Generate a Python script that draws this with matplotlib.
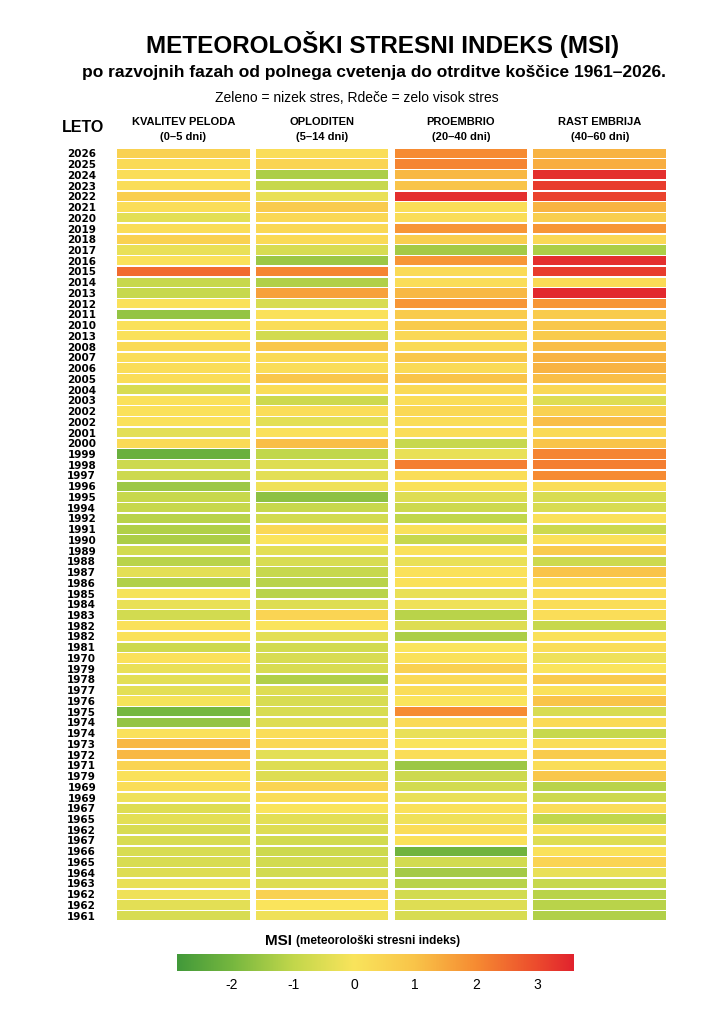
import numpy as np
import matplotlib.pyplot as plt
from matplotlib.colors import LinearSegmentedColormap, Normalize
from matplotlib.transforms import blended_transform_factory

plt.rcParams['font.family'] = ['Liberation Sans', 'DejaVu Sans']

years = ["2026", "2025", "2024", "2023", "2022", "2021", "2020", "2019", "2018", "2017",
         "2016", "2015", "2014", "2013", "2012", "2011", "2010", "2013", "2008", "2007",
         "2006", "2005", "2004", "2003", "2002", "2002", "2001", "2000", "1999", "1998",
         "1997", "1996", "1995", "1994", "1992", "1991", "1990", "1989", "1988", "1987",
         "1986", "1985", "1984", "1983", "1982", "1982", "1981", "1970", "1979", "1978",
         "1977", "1976", "1975", "1974", "1974", "1973", "1972", "1971", "1979", "1969",
         "1969", "1967", "1965", "1962", "1967", "1966", "1965", "1964", "1963", "1962",
         "1962", "1961"]

phases = ["KVALITEV PELODA", "OPLODITEN", "PROEMBRIO", "RAST EMBRIJA"]
phase_days = ["(0–5 dni)", "(5–14 dni)", "(20–40 dni)", "(40–60 dni)"]

kvaliteta = [0.6, 0.3, 0.2, 0.2, 0.7, 0.2, -0.4, 0.2, 0.6, -0.3,
             0.1, 2.5, -0.9, -0.9, 0.1, -1.6, 0.1, 0.1, 0.3, 0.2,
             0.2, 0.2, -0.6, 0.1, 0.1, 0.1, -0.4, 0.3, -2.2, -0.8,
             -0.8, -1.5, -0.9, -0.9, -1.1, -1.2, -1.3, -0.7, -1.1, -0.4,
             -1.2, -0.1, -0.3, -0.7, 0.1, 0.1, -0.8, 0.1, -0.3, -0.4,
             -0.4, -0.1, -2.0, -1.6, 0.1, 1.2, 1.2, 0.5, 0.1, 0.2,
             -0.2, -0.5, -0.4, -0.6, -0.6, -0.6, -0.6, -0.5, -0.3, -0.2,
             -0.4, -0.6]

oploditev = [0.2, 0.5, -1.3, -0.9, -0.3, 0.8, 0.4, 0.4, 0.3, -0.6,
             -1.5, 2.1, -1.2, 1.6, -0.6, 0.1, 0.2, -0.7, 0.9, 0.3,
             0.2, 0.9, 0.2, -0.8, 0.2, -0.4, 0.1, 1.1, -1.0, -0.5,
             -0.4, -0.2, -1.7, -0.9, -0.7, 0.4, 0.0, -0.4, -0.6, -0.9,
             -1.1, -1.1, -0.5, 0.5, 0.0, -0.4, -0.7, -0.6, -0.6, -1.2,
             -0.5, -0.6, -0.6, -0.5, 0.2, 0.4, -0.4, -0.5, -0.5, 0.5,
             0.2, 0.0, -0.4, -0.5, -0.7, -0.8, -0.7, -0.7, -0.5, 0.6,
             0.0, -0.2]

proembrio = [2.0, 2.1, 1.2, 1.0, 3.4, 0.2, 0.2, 1.8, 0.7, -1.4,
             1.8, 0.3, 0.2, 1.2, 1.8, 0.8, 0.8, 0.4, 0.3, 0.9,
             0.3, 1.0, 0.3, 0.2, 0.4, 0.2, 0.2, -0.9, -0.3, 2.2,
             0.2, 0.1, -0.5, -0.8, -1.0, 0.1, -0.9, 0.1, -0.3, 0.1,
             0.1, -0.3, -0.2, -1.1, -0.5, -1.3, 0.0, 0.1, 0.6, 0.3,
             0.2, 0.0, 2.0, 0.3, -0.3, 0.0, 0.2, -1.5, -0.8, -0.7,
             -0.3, 0.1, -0.2, 0.2, 0.1, -2.1, -0.7, -1.4, -1.1, -0.7,
             -0.5, -0.6]

rast = [1.3, 1.4, 3.4, 3.2, 3.1, 1.3, 0.7, 1.8, 0.4, -1.3,
        3.4, 3.2, 0.3, 3.5, 1.8, 0.8, 0.9, 0.8, 1.1, 1.3,
        1.3, 1.1, 0.4, -0.5, 0.6, 1.1, 0.3, 1.0, 2.1, 2.2,
        2.0, 0.2, -0.6, -0.6, 0.1, -0.8, 0.1, 0.8, -0.8, 1.0,
        0.3, 0.2, 0.2, 0.2, -0.9, 0.1, 0.2, -0.2, 0.0, 0.8,
        0.1, 1.0, -0.6, 0.3, -0.9, 0.2, 0.8, 0.2, 0.9, -1.1,
        -0.8, 0.2, -1.0, 0.1, -0.5, 0.1, 0.5, -0.3, -0.9, -1.1,
        -1.1, -1.2]

cbar_ticks = [-2, -1, 0, 1, 2, 3]

vmin, vmax = -2.9, 3.6
stops = [(-2.9, "#42993a"), (-2.0, "#76b73f"), (-1.0, "#c2d74b"), (0.0, "#fae45c"),
         (1.0, "#f9c449"), (2.0, "#f68b32"), (3.0, "#ec4b2d"), (3.6, "#e1232e")]
cmap = LinearSegmentedColormap.from_list(
    "msi", [((v - vmin) / (vmax - vmin), c) for v, c in stops])
norm = Normalize(vmin, vmax)

W, H = 724, 1024
fig = plt.figure(figsize=(W / 100, H / 100), dpi=100)
fig.patch.set_facecolor("white")


def box(x0, y0, x1, y1):
    return [x0 / W, 1 - y1 / H, (x1 - x0) / W, (y1 - y0) / H]


ax = fig.add_axes(box(117, 148, 666, 921))
columns = [kvaliteta, oploditev, proembrio, rast]
rows = np.arange(len(years))
for j, vals in enumerate(columns):
    ax.barh(rows, 0.955, left=j - 0.4775, height=0.86,
            color=cmap(norm(np.array(vals))), linewidth=0)
ax.set_xlim(-0.4775, 3.4775)
ax.set_ylim(len(years) - 0.5, -0.5)
ax.set_yticks(rows)
ax.set_yticklabels(years, fontsize=7.5, fontweight="bold", family=["DejaVu Sans"])
ax.tick_params(axis="y", length=0, pad=15)
ax.set_xticks([])
for s in ax.spines.values():
    s.set_visible(False)

tr = blended_transform_factory(ax.transData, fig.transFigure)
for j, (name, days) in enumerate(zip(phases, phase_days)):
    ax.text(j, 1 - 122 / H, name, transform=tr, ha="center", va="center",
            fontsize=8, fontweight="bold")
    ax.text(j, 1 - 137 / H, days, transform=tr, ha="center", va="center",
            fontsize=8, fontweight="bold")

fig.text(83 / W, 1 - 128 / H, "LETO", ha="center", va="center",
         fontsize=11.5, fontweight="bold")

fig.text(383 / W, 1 - 45 / H, "METEOROLOŠKI STRESNI INDEKS (MSI)", ha="center",
         va="center", fontsize=17.5, fontweight="bold")
fig.text(374 / W, 1 - 73 / H,
         "po razvojnih fazah od polnega cvetenja do otrditve koščice 1961–2026.",
         ha="center", va="center", fontsize=12.5, fontweight="bold")
fig.text(357 / W, 1 - 98 / H, "Zeleno = nizek stres, Rdeče = zelo visok stres",
         ha="center", va="center", fontsize=10)

fig.text(292 / W, 1 - 941 / H, "MSI", ha="right", va="center",
         fontsize=11, fontweight="bold")
fig.text(296 / W, 1 - 941 / H, "(meteorološki stresni indeks)", ha="left",
         va="center", fontsize=8.5, fontweight="bold")

cax = fig.add_axes(box(177, 954, 574, 971))
grad = np.linspace(vmin, vmax, 512).reshape(1, -1)
cax.imshow(grad, aspect="auto", cmap=cmap, norm=norm,
           extent=[vmin, vmax, 0, 1])
cax.set_xlim(vmin, vmax)
cax.set_yticks([])
cax.set_xticks(cbar_ticks)
cax.set_xticklabels([str(t) for t in cbar_ticks], fontsize=10)
cax.tick_params(axis="x", length=0, pad=5)
for s in cax.spines.values():
    s.set_visible(False)

fig.savefig("out.png", dpi=100, facecolor="white")
